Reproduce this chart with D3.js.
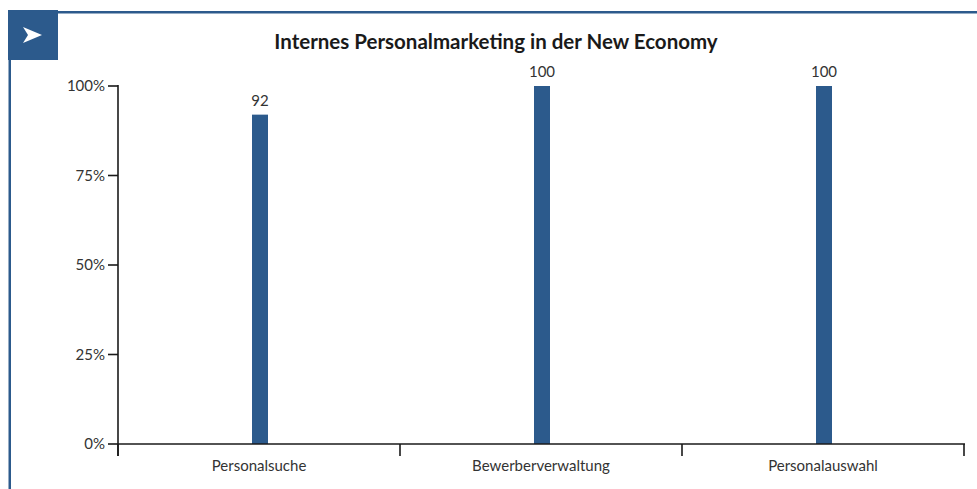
<!DOCTYPE html>
<html>
<head>
<meta charset="utf-8">
<script src="https://cdn.jsdelivr.net/npm/d3@7"></script>
<style>
  html, body { margin: 0; padding: 0; background: #fff; }
  svg { display: block; }
  text { font-family: Lato, "Open Sans", sans-serif; }
</style>
</head>
<body>
<script>
const categories = ["Personalsuche", "Bewerberverwaltung", "Personalauswahl"];
const values = [92, 100, 100];
const yTicks = [0, 25, 50, 75, 100];
const title = "Internes Personalmarketing in der New Economy";

const W = 977, H = 489;
const blue = "#2c5a8c";
const svg = d3.select("body").append("svg").attr("width", W).attr("height", H);

// frame: top rule, left rule, corner box with arrow
svg.append("rect").attr("x", 58).attr("y", 11).attr("width", W - 58).attr("height", 2.5).attr("fill", blue);
svg.append("rect").attr("x", 8.5).attr("y", 58).attr("width", 2.5).attr("height", H - 58).attr("fill", blue);
svg.append("rect").attr("x", 8).attr("y", 10).attr("width", 50).attr("height", 50).attr("fill", blue);
svg.append("path")
  .attr("d", "M23,27 L42,35 L23,43 L28,35 Z")
  .attr("fill", "#fff");

svg.append("text")
  .attr("x", 496).attr("y", 49)
  .attr("text-anchor", "middle")
  .attr("font-weight", "bold")
  .attr("font-size", 20.5)
  .attr("fill", "#1a1a1a")
  .text(title);

const x0 = 118, x1 = 964, y0 = 444, y1 = 86;
const x = d3.scaleBand().domain(categories).range([x0, x1]).padding(0);
const y = d3.scaleLinear().domain([0, 100]).range([y0, y1]);
const barW = 16;

const g = svg.append("g");

// bars
g.selectAll("rect.bar").data(values).join("rect")
  .attr("class", "bar")
  .attr("x", (d, i) => x(categories[i]) + x.bandwidth() / 2 - barW / 2 + 1)
  .attr("width", barW)
  .attr("y", d => y(d))
  .attr("height", d => y(0) - y(d))
  .attr("fill", blue);

// value labels
g.selectAll("text.val").data(values).join("text")
  .attr("class", "val")
  .attr("x", (d, i) => x(categories[i]) + x.bandwidth() / 2 + 1)
  .attr("y", d => y(d) - 9)
  .attr("text-anchor", "middle")
  .attr("font-size", 15)
  .attr("fill", "#333")
  .text(d => d);

// y axis
const axisColor = "#1a1a1a";
g.append("line").attr("x1", x0).attr("x2", x0).attr("y1", y1 - 1).attr("y2", y0 + 12)
  .attr("stroke", axisColor).attr("stroke-width", 1.6);
g.selectAll("line.ytick").data(yTicks).join("line")
  .attr("class", "ytick")
  .attr("x1", x0 - 10).attr("x2", x0)
  .attr("y1", d => y(d)).attr("y2", d => y(d))
  .attr("stroke", axisColor).attr("stroke-width", 1.6);
g.selectAll("text.ylab").data(yTicks).join("text")
  .attr("class", "ylab")
  .attr("x", x0 - 13).attr("y", d => y(d) + 5)
  .attr("text-anchor", "end")
  .attr("font-size", 15)
  .attr("fill", "#333")
  .text(d => d + "%");

// x axis
g.append("line").attr("x1", x0).attr("x2", x1 + 1).attr("y1", y0).attr("y2", y0)
  .attr("stroke", axisColor).attr("stroke-width", 1.6);
const bounds = categories.map(c => x(c)).concat([x1]);
g.selectAll("line.xtick").data(bounds).join("line")
  .attr("class", "xtick")
  .attr("x1", d => d).attr("x2", d => d)
  .attr("y1", y0).attr("y2", y0 + 12)
  .attr("stroke", axisColor).attr("stroke-width", 1.6);
g.selectAll("text.xlab").data(categories).join("text")
  .attr("class", "xlab")
  .attr("x", d => x(d) + x.bandwidth() / 2)
  .attr("y", y0 + 27)
  .attr("text-anchor", "middle")
  .attr("font-size", 15)
  .attr("fill", "#333")
  .text(d => d);
</script>
</body>
</html>
